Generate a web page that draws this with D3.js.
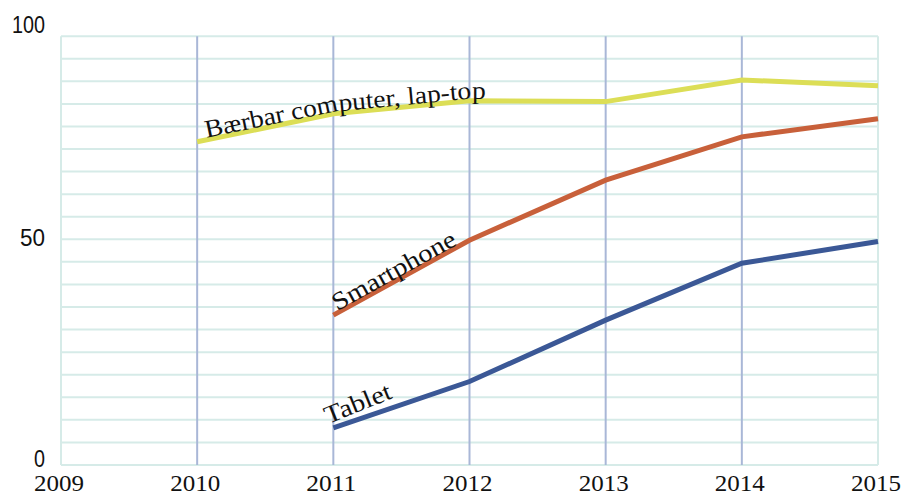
<!DOCTYPE html>
<html>
<head>
<meta charset="utf-8">
<script src="https://cdn.jsdelivr.net/npm/d3@7"></script>
<style>
  body { margin: 0; background: #fff; }
  text { font-family: "Liberation Serif", "DejaVu Serif", serif; fill: #111; }
  .ylab { font-family: "Liberation Sans Narrow", "Liberation Sans", Arial, sans-serif; }
</style>
</head>
<body>
<div id="chart"></div>
<script>
// data
var years = [2009, 2010, 2011, 2012, 2013, 2014, 2015];
var laptop = [null, 71.6, 77.8, 80.7, 80.5, 85.3, 84.0];
var smartphone = [null, null, 33.2, 49.8, 63.1, 72.7, 76.7];
var tablet = [null, null, 8.2, 18.5, 32.1, 44.7, 49.5];
var yTicks = [0, 50, 100];
var seriesNames = ["Bærbar computer, lap-top", "Smartphone", "Tablet"];

var W = 902, H = 495;
var margin = {left: 61, right: 24},
    width = W - margin.left - margin.right,
    y0px = 465, pxPerUnit = 4.514;

var svg = d3.select("#chart").append("svg")
    .attr("width", W).attr("height", H);
var g = svg.append("g")
    .attr("transform", "translate(" + margin.left + ",0)");

var x = d3.scaleLinear().domain([2009, 2015]).range([0, width]);
var y = d3.scaleLinear().domain([0, 100]).range([y0px, y0px - 100 * pxPerUnit]);
var gridTop = 95; // plot area stops at the 19th grid line

// horizontal grid, every 5
g.append("g").selectAll("line")
    .data(d3.range(0, gridTop + 1, 5))
  .enter().append("line")
    .attr("x1", 0).attr("x2", width)
    .attr("y1", function(d) { return y(d); })
    .attr("y2", function(d) { return y(d); })
    .attr("stroke", "#d6ebe8").attr("stroke-width", 2);

// plot borders left/right
[0, width].forEach(function(px) {
  g.append("line").attr("x1", px).attr("x2", px)
      .attr("y1", y(gridTop)).attr("y2", y(0))
      .attr("stroke", "#d6ebe8").attr("stroke-width", 2);
});

// vertical year lines
g.append("g").selectAll("line")
    .data(years.slice(1, -1))
  .enter().append("line")
    .attr("x1", function(d) { return x(d); })
    .attr("x2", function(d) { return x(d); })
    .attr("y1", y(gridTop)).attr("y2", y(0))
    .attr("stroke", "#a9b7d7").attr("stroke-width", 2);

// y axis labels
var yOff = {0: 2, 50: 7, 100: 19.5};
var yLen = {0: 11, 50: 25, 100: 33};
g.append("g").selectAll("text")
    .data(yTicks)
  .enter().append("text")
    .attr("class", "ylab")
    .attr("x", -16)
    .attr("y", function(d) { return y(d) + yOff[d]; })
    .attr("text-anchor", "end")
    .attr("font-size", 24)
    .attr("textLength", function(d) { return yLen[d]; })
    .attr("lengthAdjust", "spacingAndGlyphs")
    .text(function(d) { return d; });

// x axis labels
g.append("g").selectAll("text")
    .data(years)
  .enter().append("text")
    .attr("x", function(d) { return x(d) - 2; })
    .attr("y", y(0) + 26)
    .attr("text-anchor", "middle")
    .attr("font-size", 24)
    .attr("textLength", 50)
    .attr("lengthAdjust", "spacingAndGlyphs")
    .text(function(d) { return d; });

var line = d3.line()
    .defined(function(d) { return d[1] != null; })
    .x(function(d) { return x(d[0]); })
    .y(function(d) { return y(d[1]); });

var series = [
  {name: seriesNames[0], vals: laptop, color: "#dcde56"},
  {name: seriesNames[1], vals: smartphone, color: "#c8603a"},
  {name: seriesNames[2], vals: tablet, color: "#3b5896"}
];

series.forEach(function(s, i) {
  s.pts = years.map(function(yr, j) { return [yr, s.vals[j]]; });
  g.append("path")
      .datum(s.pts)
      .attr("id", "ln" + i)
      .attr("fill", "none")
      .attr("stroke", s.color)
      .attr("stroke-width", 5)
      .attr("d", line);
});

// laptop label follows its line (curved text)
g.append("text")
    .attr("font-size", 25)
    .attr("dy", -2)
  .append("textPath")
    .attr("href", "#ln0")
    .attr("startOffset", 10)
    .attr("textLength", 282)
    .attr("lengthAdjust", "spacingAndGlyphs")
    .text(series[0].name);

// smartphone and tablet labels: straight, rotated
var lab = [
  {s: series[1], dx: 4, dy: -4, ang: -29, len: 138},
  {s: series[2], dx: -5, dy: -4, ang: -22, len: 70}
];
lab.forEach(function(l) {
  var px = x(2011) + l.dx, py = y(l.s.vals[2]) + l.dy;
  g.append("text")
      .attr("transform", "translate(" + px + "," + py + ") rotate(" + l.ang + ")")
      .attr("font-size", 25)
      .attr("textLength", l.len)
      .attr("lengthAdjust", "spacingAndGlyphs")
      .text(l.s.name);
});
</script>
</body>
</html>
